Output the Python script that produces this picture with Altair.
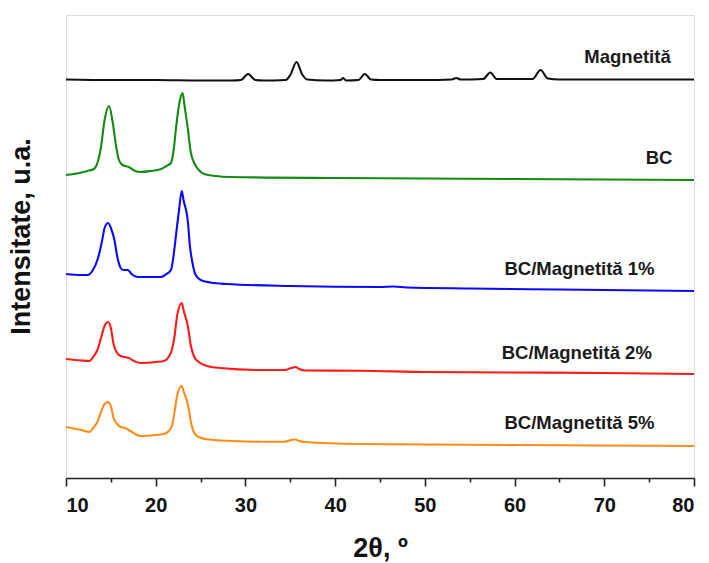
import altair as alt
import pandas as pd

# ---- data (2θ in degrees, intensity in arbitrary units incl. vertical offset) ----
mag_x = [10.0, 15.0, 20.0, 25.0, 28.5, 29.5, 30.3, 31.1, 32.0, 34.5, 35.0, 35.7, 36.3, 36.9,
         39.0, 40.6, 40.9, 41.2, 42.6, 43.3, 44.0, 45.0, 50.0, 53.0, 53.5, 54.0, 56.5, 57.3,
         58.0, 62.0, 62.9, 63.7, 65.0, 70.0, 75.0, 80.0]
mag_y = [398.5, 398.0, 398.0, 397.5, 397.5, 398.0, 404.0, 398.0, 397.5, 398.0, 403.0, 416.0, 404.0, 398.5,
         397.5, 398.0, 400.0, 397.5, 398.0, 404.0, 398.5, 398.0, 398.0, 398.5, 400.0, 398.5, 399.0, 405.5,
         399.0, 399.0, 408.0, 399.5, 398.5, 398.5, 398.5, 398.5]

bc_x = [10.0, 11.5, 12.4, 13.1, 13.6, 13.9, 14.3, 14.8, 15.2, 15.6, 15.9, 16.3, 17.0, 17.7, 18.3, 19.4,
        20.6, 21.2, 21.7, 22.0, 22.3, 22.7, 23.0, 23.2, 23.6, 23.9, 24.3, 24.8, 25.4, 26.7, 28.3,
        40.0, 50.0, 60.0, 70.0, 80.0]
bc_y = [303, 305, 307, 309, 318, 331, 358, 372, 356, 331, 318, 313, 311, 307, 306, 307,
        309, 312, 315, 328, 353, 378, 385, 373, 348, 326, 315, 308, 304, 302, 301,
        300, 299.5, 299, 298.5, 298]

m1_x = [10.0, 11.7, 12.4, 13.0, 13.5, 13.8, 14.1, 14.3, 14.7, 15.0, 15.4, 15.7, 16.1, 16.4, 16.9,
        17.3, 18.0, 19.4, 20.6, 21.2, 21.7, 22.0, 22.2, 22.6, 22.9, 23.1, 23.6, 23.8, 24.1, 24.4,
        25.0, 26.1, 27.9, 35.0, 45.0, 46.5, 48.0, 55.0, 65.0, 80.0]
m1_y = [204, 203, 203, 208, 218, 228, 241, 250, 255, 250, 238, 222, 210, 208, 208,
        204, 201, 201, 201, 204, 208, 223, 238, 268, 287, 278, 255, 233, 215, 204,
        198, 195.5, 194, 192, 191, 191.5, 190.5, 189.5, 188.5, 187]

m2_x = [10.0, 11.7, 12.6, 13.1, 13.5, 13.9, 14.3, 14.7, 15.0, 15.3, 15.7, 16.1, 16.6, 17.0, 17.7,
        18.3, 20.0, 20.9, 21.4, 21.8, 22.1, 22.4, 22.9, 23.1, 23.6, 23.9, 24.3, 24.8, 25.7, 27.2,
        31.7, 34.4, 35.1, 35.6, 36.0, 36.7, 42.8, 50.0, 60.0, 70.0, 80.0]
m2_y = [119, 117.5, 117, 122, 128, 140, 152, 156, 150, 134, 125, 122, 121, 120, 116.5,
        115, 116, 117, 120.5, 128, 142, 163, 175, 168, 151, 133, 121, 116, 112, 110,
        108, 108, 110, 111, 109, 107.5, 107.3, 106, 105.5, 105, 104]

m5_x = [10.0, 11.7, 12.6, 13.1, 13.5, 13.9, 14.3, 14.7, 15.0, 15.3, 15.7, 16.1, 16.6, 17.0, 17.7,
        18.3, 20.0, 20.9, 21.4, 21.8, 22.1, 22.4, 22.9, 23.1, 23.6, 23.9, 24.3, 24.8, 25.7, 27.2,
        31.7, 34.4, 35.1, 35.6, 36.0, 36.7, 42.8, 50.0, 60.0, 70.0, 80.0]
m5_y = [51, 48, 46, 51, 56, 66, 74, 76, 72, 60, 54, 51, 50, 48, 44,
        42, 43, 44, 46.5, 52, 66, 83, 92, 87, 73, 57, 45, 41, 38.7, 37.5,
        36.3, 36.3, 38, 38.5, 37, 36, 34, 33.5, 33, 32.5, 32]

series_names = ["Magnetită", "BC", "BC/Magnetită 1%", "BC/Magnetită 2%", "BC/Magnetită 5%"]
series_colors = ["#111111", "#138a13", "#0a0aff", "#ff1a1a", "#ff8c1a"]
label_x = [77.4, 77.6, 75.6, 75.3, 75.6]
label_y = [421, 320, 209, 125, 55]

x_ticks = [10, 15, 20, 25, 30, 35, 40, 45, 50, 55, 60, 65, 70, 75, 80]

# ---- build tables ----
rows = []
for name, xs, ys in zip(series_names, [mag_x, bc_x, m1_x, m2_x, m5_x], [mag_y, bc_y, m1_y, m2_y, m5_y]):
    for xv, yv in zip(xs, ys):
        rows.append({"series": name, "x": xv, "y": yv})
df = pd.DataFrame(rows)
lab = pd.DataFrame({"series": series_names, "x": label_x, "y": label_y})

xscale = alt.Scale(domain=[10, 80], nice=False, zero=False)
yscale = alt.Scale(domain=[0, 463], nice=False, zero=False)
cscale = alt.Scale(domain=series_names, range=series_colors)

lines = alt.Chart(df).mark_line(strokeWidth=2.1, interpolate="monotone").encode(
    x=alt.X("x:Q", scale=xscale, title="2θ, º",
            axis=alt.Axis(values=x_ticks,
                          labelExpr="datum.value % 10 === 0 ? datum.label : ''",
                          tickSize={"condition": {"test": "datum.value % 10 === 0", "value": 8}, "value": 4},
                          tickColor="#222", domainColor="#222", domainWidth=1.5, tickWidth=1.6,
                          labelFont="Liberation Sans", labelFontSize=20,
                          labelFontWeight="bold", labelColor="#111", labelPadding=9,
                          titleFont="Liberation Sans", titleFontSize=27,
                          titleFontWeight="bold", titleColor="#111", titlePadding=20,
                          grid=False)),
    y=alt.Y("y:Q", scale=yscale, title="Intensitate, u.a.",
            axis=alt.Axis(labels=False, ticks=False, domain=False, grid=False,
                          titleFont="Liberation Sans", titleFontSize=27, titleFontWeight="bold",
                          titleColor="#111", titlePadding=31, titleY=221)),
    color=alt.Color("series:N", scale=cscale, legend=None),
    detail="series:N",
)

labels = alt.Chart(lab).mark_text(align="right", baseline="middle", font="Liberation Sans",
                                  fontSize=18.5, fontWeight="bold", color="#1a1a1a").encode(
    x=alt.X("x:Q", scale=xscale),
    y=alt.Y("y:Q", scale=yscale),
    text="series:N",
)

chart = alt.layer(lines, labels).properties(
    width=628, height=463,
    autosize=alt.AutoSizeParams(type="none"),
    padding={"left": 66, "top": 15, "right": 15, "bottom": 85},
).configure_view(stroke="#333", strokeWidth=1.5).configure(background="white")

chart.save("out.html", embed_options={"renderer": "svg", "actions": False})
